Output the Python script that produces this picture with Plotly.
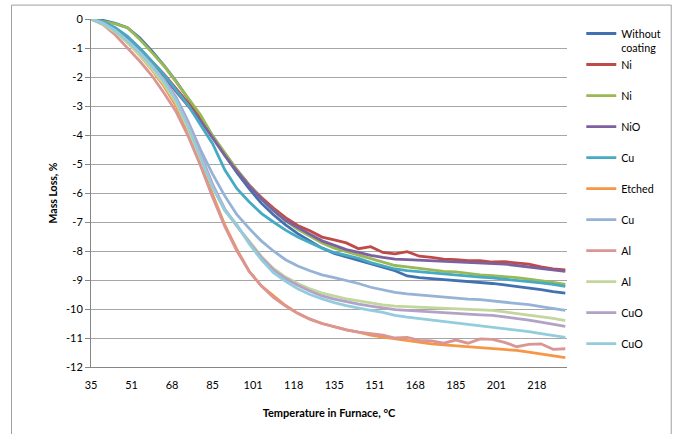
import plotly.graph_objects as go

# ---------------- data ----------------
temperature = [35, 40, 45, 50, 55, 60, 65, 70, 75, 80, 85, 90, 95, 100, 105, 110,
               115, 120, 125, 130, 135, 140, 145, 150, 155, 160, 165, 170, 175,
               180, 185, 190, 195, 200, 205, 210, 215, 220, 225, 230]

without_coating = [0, -0.05, -0.15, -0.3, -0.65, -1.1, -1.6, -2.15, -2.75, -3.4, -4.05, -4.7,
                   -5.3, -5.85, -6.35, -6.75, -7.1, -7.4, -7.65, -7.9, -8.08, -8.2, -8.3,
                   -8.42, -8.55, -8.68, -8.86, -8.92, -8.95, -8.98, -9.02, -9.05, -9.08,
                   -9.12, -9.17, -9.22, -9.28, -9.33, -9.4, -9.45]
ni_red = [0, -0.12, -0.32, -0.62, -1.02, -1.45, -1.9, -2.4, -2.9, -3.45, -4.05, -4.65,
          -5.2, -5.72, -6.15, -6.52, -6.85, -7.12, -7.3, -7.52, -7.62, -7.72, -7.92,
          -7.85, -8.05, -8.1, -8.02, -8.18, -8.22, -8.28, -8.3, -8.33, -8.33, -8.38,
          -8.37, -8.42, -8.45, -8.55, -8.62, -8.65]
ni_green = [0, -0.08, -0.17, -0.3, -0.7, -1.15, -1.62, -2.17, -2.72, -3.3, -4.02, -4.62,
            -5.2, -5.72, -6.2, -6.6, -6.95, -7.25, -7.5, -7.72, -7.9, -8.02, -8.15,
            -8.27, -8.4, -8.5, -8.55, -8.6, -8.65, -8.7, -8.72, -8.78, -8.82, -8.85,
            -8.88, -8.92, -8.97, -9.02, -9.08, -9.15]
nio_purple = [0, -0.15, -0.38, -0.72, -1.15, -1.6, -2.0, -2.5, -2.97, -3.5, -4.1, -4.7,
              -5.25, -5.75, -6.2, -6.6, -6.95, -7.2, -7.42, -7.65, -7.8, -7.95, -8.05,
              -8.15, -8.22, -8.28, -8.3, -8.32, -8.33, -8.35, -8.37, -8.4, -8.42, -8.43,
              -8.45, -8.5, -8.55, -8.62, -8.65, -8.7]
cu_teal = [0, -0.1, -0.3, -0.6, -1.0, -1.45, -1.92, -2.45, -2.98, -3.65, -4.3, -5.2,
           -5.85, -6.3, -6.7, -7.0, -7.28, -7.52, -7.72, -7.9, -8.05, -8.15, -8.25,
           -8.4, -8.52, -8.62, -8.68, -8.72, -8.76, -8.8, -8.84, -8.87, -8.9, -8.93,
           -8.97, -9.0, -9.05, -9.1, -9.15, -9.22]
etched_orange = [0, -0.15, -0.42, -0.8, -1.25, -1.75, -2.32, -3.0, -3.95, -5.0, -6.1, -7.1,
                 -7.95, -8.7, -9.2, -9.55, -9.88, -10.15, -10.35, -10.5, -10.62, -10.72,
                 -10.8, -10.9, -10.97, -11.03, -11.1, -11.15, -11.2, -11.24, -11.27, -11.3,
                 -11.33, -11.36, -11.39, -11.43, -11.49, -11.55, -11.61, -11.68]
cu_lightblue = [0, -0.15, -0.4, -0.75, -1.15, -1.6, -2.1, -2.7, -3.55, -4.5, -5.35, -6.1,
                -6.75, -7.22, -7.65, -8.0, -8.3, -8.52, -8.68, -8.82, -8.92, -9.02, -9.12,
                -9.25, -9.35, -9.43, -9.48, -9.52, -9.56, -9.6, -9.63, -9.66, -9.68, -9.72,
                -9.75, -9.8, -9.85, -9.92, -9.98, -10.05]
al_lightred = [0, -0.2, -0.55, -1.0, -1.45, -1.95, -2.55, -3.2, -4.05, -5.05, -6.15, -7.15,
               -8.0, -8.7, -9.2, -9.6, -9.9, -10.15, -10.35, -10.5, -10.62, -10.72, -10.8,
               -10.86, -10.9, -11.0, -10.98, -11.08, -11.1, -11.18, -11.07, -11.18, -11.03,
               -11.05, -11.15, -11.3, -11.22, -11.2, -11.39, -11.37]
al_lightgreen = [0, -0.18, -0.45, -0.82, -1.25, -1.72, -2.25, -2.9, -3.8, -4.8, -5.8, -6.6,
                 -7.15, -7.65, -8.18, -8.6, -8.9, -9.12, -9.3, -9.45, -9.56, -9.65, -9.72,
                 -9.8, -9.86, -9.9, -9.92, -9.94, -9.96, -9.97, -9.98, -10.0, -10.02,
                 -10.05, -10.1, -10.15, -10.2, -10.26, -10.32, -10.4]
cuo_lightpurple = [0, -0.15, -0.4, -0.75, -1.15, -1.6, -2.1, -2.75, -3.6, -4.65, -5.7, -6.55,
                   -7.12, -7.7, -8.22, -8.65, -8.95, -9.18, -9.38, -9.55, -9.66, -9.75,
                   -9.83, -9.9, -9.97, -10.02, -10.05, -10.08, -10.1, -10.12, -10.15, -10.18,
                   -10.2, -10.22, -10.27, -10.32, -10.38, -10.45, -10.52, -10.6]
cuo_lightteal = [0, -0.15, -0.4, -0.75, -1.15, -1.62, -2.15, -2.8, -3.7, -4.75, -5.8, -6.6,
                 -7.1, -7.75, -8.3, -8.75, -9.05, -9.3, -9.5, -9.65, -9.78, -9.88, -9.97,
                 -10.05, -10.12, -10.22, -10.28, -10.33, -10.38, -10.42, -10.48, -10.52,
                 -10.57, -10.62, -10.67, -10.72, -10.78, -10.85, -10.92, -10.98]

series_names = ["Without<br>coating", "Ni", "Ni", "NiO", "Cu", "Etched", "Cu", "Al", "Al",
                "CuO", "CuO"]
series_values = [without_coating, ni_red, ni_green, nio_purple, cu_teal, etched_orange,
                 cu_lightblue, al_lightred, al_lightgreen, cuo_lightpurple, cuo_lightteal]
series_colors = ["#4271B2", "#BE4B48", "#98B954", "#7D60A0", "#46AAC5", "#F79646",
                 "#95B3D7", "#D99694", "#C3D69B", "#B3A2C7", "#93CDDD"]

x_tick_vals = [35, 51.67, 68.33, 85, 101.67, 118.33, 135, 151.67, 168.33, 185, 201.67, 218.33]
x_tick_text = ["35", "51", "68", "85", "101", "118", "135", "151", "168", "185", "201", "218"]
y_tick_vals = [0, -1, -2, -3, -4, -5, -6, -7, -8, -9, -10, -11, -12]
y_tick_text = ["0", "-1", "-2", "-3", "-4", "-5", "-6", "-7", "-8", "-9", "-10", "-11", "-12"]

FONT = "Lato, 'Liberation Sans', sans-serif"

fig = go.Figure()
for i, (name, vals, col) in enumerate(zip(series_names, series_values, series_colors)):
    label = name if "<br>" in name else name + "<br> "
    fig.add_trace(go.Scatter(
        x=temperature, y=vals, mode="lines", name=label,
        line=dict(color=col, width=2.8),
        legendgroup="g%d" % i,
    ))

fig.update_layout(
    width=678, height=434,
    margin=dict(l=91, r=108, t=19, b=67),
    paper_bgcolor="white", plot_bgcolor="white",
    font=dict(family=FONT, size=11, color="#000000"),
    showlegend=True,
    legend=dict(
        x=1.03, xanchor="left", y=0.997, yanchor="top",
        font=dict(family=FONT, size=10.7, color="#000000"),
        tracegroupgap=0.2, valign="top", itemwidth=30,
        bgcolor="rgba(0,0,0,0)", maxheight=420,
    ),
    xaxis=dict(
        range=[35, 230.7], tickmode="array", tickvals=x_tick_vals, ticktext=x_tick_text,
        showgrid=False, zeroline=False, showline=True, linecolor="#868686", linewidth=1,
        ticks="", ticklabelstandoff=8,
        tickfont=dict(family=FONT, size=11),
        title=dict(text="<b>Temperature in Furnace, °C</b>", font=dict(family=FONT, size=11),
                   standoff=19),
    ),
    yaxis=dict(
        range=[-12, 0], tickmode="array", tickvals=y_tick_vals, ticktext=y_tick_text,
        showgrid=True, gridcolor="#A6A6A6", gridwidth=1, zeroline=False,
        showline=True, linecolor="#868686", linewidth=1,
        ticks="outside", ticklen=5, tickcolor="#868686",
        tickfont=dict(family=FONT, size=11),
        title=dict(text="<b>Mass Loss, %</b>", font=dict(family=FONT, size=10.5), standoff=6),
    ),
)

# outer chart border
fig.add_shape(type="rect", xref="paper", yref="paper",
              x0=-0.167, x1=1.219, y0=-0.25, y1=1.04,
              line=dict(color="#A0A0A0", width=1), fillcolor="rgba(0,0,0,0)", layer="below")

fig.write_html("out.html", config={"displayModeBar": False},
               post_script="document.body.style.margin='0';")
